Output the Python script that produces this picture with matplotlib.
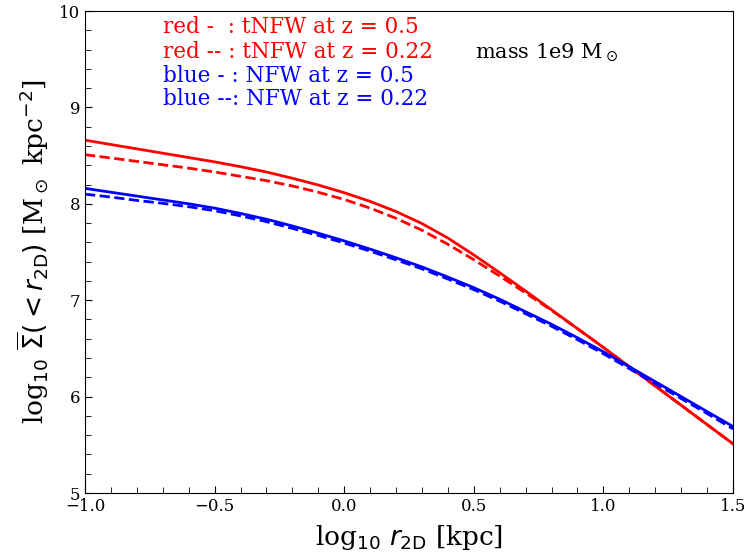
import numpy as np
import matplotlib
matplotlib.use("Agg")
import matplotlib.pyplot as plt
from matplotlib.ticker import MultipleLocator

# log10 r2D [kpc]
log_r = [-1.0, -0.9, -0.8, -0.7, -0.6, -0.5, -0.4, -0.3, -0.2, -0.1, 0.0,
         0.1, 0.2, 0.3, 0.4, 0.5, 0.6, 0.7, 0.8, 0.9, 1.0,
         1.1, 1.2, 1.3, 1.4, 1.5]

# log10 mean surface density
tnfw_z05 = [8.66, 8.615, 8.57, 8.525, 8.48, 8.435, 8.385, 8.33, 8.265, 8.195, 8.115,
            8.025, 7.92, 7.795, 7.645, 7.47, 7.285, 7.095, 6.90, 6.705, 6.51,
            6.31, 6.11, 5.91, 5.71, 5.51]
tnfw_z022 = [8.51, 8.475, 8.44, 8.405, 8.37, 8.33, 8.285, 8.24, 8.185, 8.12, 8.045,
             7.955, 7.85, 7.725, 7.58, 7.42, 7.25, 7.075, 6.895, 6.705, 6.51,
             6.31, 6.11, 5.91, 5.71, 5.51]
nfw_z05 = [8.16, 8.12, 8.08, 8.04, 8.00, 7.955, 7.90, 7.84, 7.77, 7.695, 7.615,
           7.53, 7.44, 7.345, 7.24, 7.13, 7.01, 6.88, 6.75, 6.61, 6.465,
           6.31, 6.155, 6.00, 5.845, 5.69]
nfw_z022 = [8.10, 8.07, 8.035, 8.005, 7.97, 7.928, 7.875, 7.815, 7.745, 7.672, 7.593,
            7.509, 7.419, 7.325, 7.22, 7.11, 6.99, 6.86, 6.73, 6.59, 6.445,
            6.29, 6.135, 5.98, 5.825, 5.665]

legend_lines = ["red -  : tNFW at z = 0.5",
                "red -- : tNFW at z = 0.22",
                "blue - : NFW at z = 0.5",
                "blue --: NFW at z = 0.22"]
legend_colors = ["red", "red", "blue", "blue"]
mass_text = r"mass 1e9 M$_\odot$"

plt.rcParams['mathtext.fontset'] = 'dejavusans'
plt.rcParams['font.family'] = ['DejaVu Serif']

fig = plt.figure(figsize=(7.46, 5.58), dpi=100)
ax = fig.add_axes([85/746, 1-493/558, (733-85)/746, (493-11)/558])

ax.plot(log_r, tnfw_z05, color='red', lw=2, ls='-')
ax.plot(log_r, tnfw_z022, color='red', lw=2, ls='--')
ax.plot(log_r, nfw_z05, color='blue', lw=2, ls='-')
ax.plot(log_r, nfw_z022, color='blue', lw=2, ls='--')

ax.set_xlim(-1.0, 1.5)
ax.set_ylim(5, 10)
ax.xaxis.set_major_locator(MultipleLocator(0.5))
ax.xaxis.set_minor_locator(MultipleLocator(0.1))
ax.yaxis.set_major_locator(MultipleLocator(1))
ax.yaxis.set_minor_locator(MultipleLocator(0.2))
ax.tick_params(which='both', direction='in', top=False, right=False, labelsize=12)
ax.tick_params(which='major', length=5)
ax.tick_params(which='minor', length=4)

ax.set_xlabel(r"log$_{10}$ $r_{\rm 2D}$ [kpc]", fontsize=19, labelpad=6)
ax.set_ylabel(r"log$_{10}$ $\overline{\Sigma}(<r_{\rm 2D})$ [M$_\odot$ kpc$^{-2}$]",
              fontsize=19, labelpad=6)

ys = [9.83, 9.57, 9.33, 9.09]
for txt, c, y in zip(legend_lines, legend_colors, ys):
    ax.text(-0.70, y, txt, color=c, fontsize=15.5, va='center', ha='left')
ax.text(0.505, 9.57, mass_text, color='black', fontsize=15, va='center', ha='left')

fig.savefig("out.png", dpi=100)
